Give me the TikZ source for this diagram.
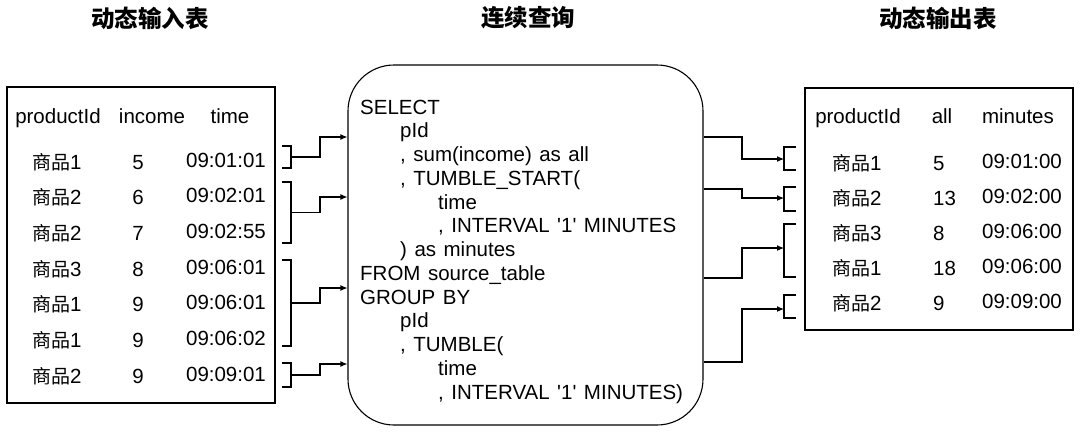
\documentclass[tikz,border=0pt]{standalone}
\usepackage{fontspec}
\setmainfont{Liberation Sans}
\newfontfamily\cjk{Noto Sans CJK SC}
\usetikzlibrary{arrows.meta}
\newcommand{\sqlfont}{\fontsize{20.5}{22}\selectfont\spaceskip=7.5pt plus 1pt\relax}
\newcommand{\prodname}{{\cjk\fontsize{19}{22}\selectfont 商品}}
\newcommand{\q}{\textquotesingle}
\begin{document}
\begin{tikzpicture}[x=1pt,y=-1pt,
  frame/.style={draw, line width=1.1pt, inner sep=0pt},
  cell/.style={anchor=base, inner sep=0pt, font=\fontsize{20.5}{22}\selectfont},
  cellw/.style={anchor=base west, inner sep=0pt, font=\fontsize{20.5}{22}\selectfont},
  sql/.style={anchor=base west, inner sep=0pt, font=\sqlfont},
  ttl/.style={inner sep=0pt, font=\cjk\bfseries\fontsize{23.5}{26}\selectfont},
  brk/.style={line width=1.1pt},
  arr/.style={line width=1.1pt, -{Latex[length=7pt,width=6pt]}}
]
\useasboundingbox (0,0) rectangle (1080,432);

% titles
\node[ttl] (t1) at (150,18) {动态输入表};
\node[ttl] (t2) at (528,18) {连续查询};
\node[ttl] (t3) at (938,18) {动态输出表};

% frames
\node[frame, minimum width=268, minimum height=316] (lt) at (141,245) {};
\node[frame, minimum width=268, minimum height=242] (rt) at (939,209) {};
\node[frame, rounded corners=46, minimum width=355, minimum height=360] (qb) at (525.5,245) {};

% left table
\node[cell] (lh1) at (58,123) {productId};
\node[cell] (lh2) at (152,123) {income};
\node[cell] (lh3) at (230,123) {time};
\foreach \n/\v/\t [count=\i from 0] in {1/5/09:01:01,2/6/09:02:01,2/7/09:02:55,3/8/09:06:01,1/9/09:06:01,1/9/09:06:02,2/9/09:09:01}{
  \node[cellw] (ln\i) at (32,169+35.7*\i) {\prodname\n};
  \node[cell] (li\i) at (138,169+35.7*\i) {\v};
  \node[cell] (lt\i) at (226,167+35.7*\i) {\t};
}

% right table
\node[cell] (rh1) at (858,123) {productId};
\node[cell] (rh2) at (942,123) {all};
\node[cell] (rh3) at (1018,123) {minutes};
\foreach \n/\v/\t [count=\i from 0] in {1/5/09:01:00,2/13/09:02:00,3/8/09:06:00,1/18/09:06:00,2/9/09:09:00}{
  \node[cellw] (rn\i) at (832,170+35*\i) {\prodname\n};
  \node[cellw] (ri\i) at (933,170+35*\i) {\v};
  \node[cell] (rtm\i) at (1022,168+35*\i) {\t};
}

% SQL text
\node[sql] (s1)  at (360,114.00) {SELECT};
\node[sql] (s2)  at (400,137.75) {pId};
\node[sql] (s3)  at (400,161.50) {, sum(income) as all};
\node[sql] (s4)  at (400,185.25) {, TUMBLE\_START(};
\node[sql] (s5)  at (438,209.00) {time};
\node[sql] (s6)  at (438,232.75) {, INTERVAL \q1\q{} MINUTES};
\node[sql] (s7)  at (400,256.50) {) as minutes};
\node[sql] (s8)  at (360,280.25) {FROM source\_table};
\node[sql] (s9)  at (360,304.00) {GROUP BY};
\node[sql] (s10) at (400,327.75) {pId};
\node[sql] (s11) at (400,351.50) {, TUMBLE(};
\node[sql] (s12) at (438,375.25) {time};
\node[sql] (s13) at (438,399.00) {, INTERVAL \q1\q{} MINUTES)};

% left brackets
\foreach \i/\a/\b in {1/146/168,2/182/243,3/260/346,4/363/387}{
  \draw[brk] (282,\a) -- (291,\a) -- (291,\b) -- (282,\b);
  \coordinate (lb\i) at (291,{(\a+\b)/2});
}
\coordinate (ljx) at (320,0);
\coordinate (la1) at (0,137);
\coordinate (la2) at (0,197);
\coordinate (la3) at (0,288);
\coordinate (la4) at (0,364);
\foreach \i in {1,2,3,4}{
  \draw[arr] (lb\i) -| (ljx |- la\i) -- (qb.west |- la\i);
}

% right brackets
\foreach \i/\a/\b in {1/147/170,2/187/211,3/224/277,4/295/318}{
  \draw[brk] (796,\a) -- (784,\a) -- (784,\b) -- (796,\b);
}
\coordinate (rjx) at (742,0);
\coordinate (rb1) at (784,159);
\coordinate (rb2) at (784,198);
\coordinate (rb3) at (784,248);
\coordinate (rb4) at (784,309);
\coordinate (rs1) at (0,137);
\coordinate (rs2) at (0,189);
\coordinate (rs3) at (0,278);
\coordinate (rs4) at (0,362);
\foreach \i in {1,2,3,4}{
  \draw[arr] (qb.east |- rs\i) -| (rjx |- rb\i) -- (rb\i);
}
\end{tikzpicture}
\end{document}
